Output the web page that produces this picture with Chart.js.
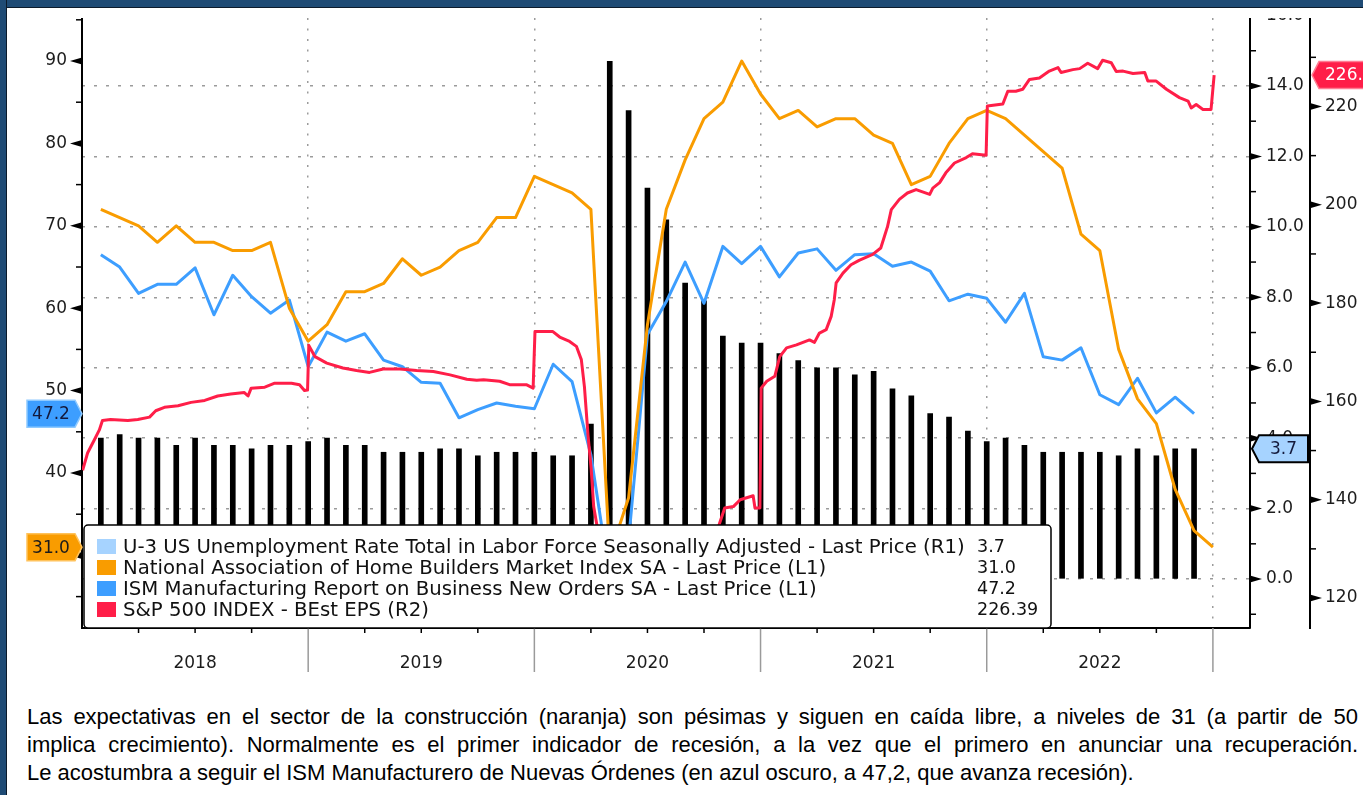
<!DOCTYPE html>
<html>
<head>
<meta charset="utf-8">
<title>NAHB, ISM New Orders, U-3 and S&amp;P 500 EPS</title>
<script src="https://cdn.jsdelivr.net/npm/chart.js@4.4.1/dist/chart.umd.min.js"></script>
<style>
  html, body { margin: 0; padding: 0; background: #fff; }
  body { width: 1363px; height: 795px; position: relative; overflow: hidden; }
  #chart { position: absolute; left: 0; top: 18px; }
  .frame { position: absolute; background: #1f4b75; z-index: 2; }
  #frameTop { left: 0; top: 0; width: 1363px; height: 7px; border-bottom: 1px solid #0c1b2b; }
  #frameLeft { left: 0; top: 0; width: 6px; height: 795px; border-right: 1px solid #0c1b2b; }
  #note {
    position: absolute; left: 27px; top: 703px; width: 1331px;
    font: 22px/28px 'Liberation Sans', Arial, sans-serif;
    color: #000;
  }
  #note .full { text-align: justify; text-align-last: justify; white-space: nowrap; }
  #note .last { text-align: left; white-space: nowrap; }
</style>
</head>
<body>
<div class="frame" id="frameTop"></div>
<div class="frame" id="frameLeft"></div>
<canvas id="chart" width="1363" height="680"></canvas>
<div id="note">
  <div class="full">Las expectativas en el sector de la construcción (naranja) son pésimas y siguen en caída libre, a niveles de 31 (a partir de 50</div>
  <div class="full">implica crecimiento). Normalmente es el primer indicador de recesión, a la vez que el primero en anunciar una recuperación.</div>
  <div class="last">Le acostumbra a seguir el ISM Manufacturero de Nuevas Órdenes (en azul oscuro, a 47,2, que avanza recesión).</div>
</div>
<script>
const yearLabels = [2018, 2019, 2020, 2021, 2022];

// Monthly values from Jan 2018, plotted at month end
const unemployment = [
    4.0, 4.1, 4.0, 4.0, 3.8, 4.0, 3.8, 3.8, 3.7, 3.8, 3.8, 3.9,
    4.0, 3.8, 3.8, 3.6, 3.6, 3.6, 3.7, 3.7, 3.5, 3.6, 3.6, 3.6,
    3.5, 3.5, 4.4, 14.7, 13.3, 11.1, 10.2, 8.4, 7.9, 6.9, 6.7, 6.7,
    6.4, 6.2, 6.0, 6.0, 5.8, 5.9, 5.4, 5.2, 4.7, 4.6, 4.2, 3.9,
    4.0, 3.8, 3.6, 3.6, 3.6, 3.6, 3.5, 3.7, 3.5, 3.7, 3.7
];
const nahb = [
    72, 71, 70, 68, 70, 68, 68, 67, 67, 68, 60, 56,
    58, 62, 62, 63, 66, 64, 65, 67, 68, 71, 71, 76,
    75, 74, 72, 30, 37, 58, 72, 78, 83, 85, 90, 86,
    83, 84, 82, 83, 83, 81, 80, 75, 76, 80, 83, 84,
    83, 81, 79, 77, 69, 67, 55, 49, 46, 38, 33, 31
];
const ismNewOrders = [
    66.5, 65.0, 61.8, 62.9, 62.9, 64.9, 59.2, 64.0, 61.4, 59.4, 61.0, 52.9,
    57.1, 56.0, 56.9, 53.7, 52.9, 51.0, 50.9, 46.7, 47.7, 48.5, 48.1, 47.8,
    53.2, 51.1, 42.2, 27.1, 31.8, 56.8, 60.8, 65.6, 60.6, 67.5, 65.4, 67.5,
    63.8, 66.7, 67.2, 64.6, 66.5, 66.6, 65.1, 65.6, 64.5, 60.9, 61.7, 61.2,
    58.3, 61.8, 54.1, 53.7, 55.2, 49.5, 48.3, 51.5, 47.3, 49.2, 47.2
];

// S&P 500 BEst EPS
const epsDates = [
    '2018-01-02', '2018-01-10', '2018-01-21', '2018-01-29', '2018-02-03', '2018-02-16', '2018-03-16',
    '2018-04-01', '2018-04-20', '2018-04-30', '2018-05-14', '2018-06-05', '2018-06-26', '2018-07-18',
    '2018-08-08', '2018-08-29', '2018-09-20', '2018-09-26', '2018-10-01', '2018-10-23', '2018-11-08',
    '2018-12-05', '2018-12-18', '2018-12-26', '2018-12-31',
    '2019-01-02', '2019-01-12', '2019-01-31', '2019-02-26', '2019-03-20', '2019-04-10', '2019-05-02',
    '2019-05-29', '2019-06-25', '2019-07-22', '2019-08-18', '2019-09-14', '2019-09-30', '2019-10-11',
    '2019-11-06', '2019-11-22', '2019-12-19', '2019-12-30',
    '2020-01-02', '2020-01-31', '2020-02-11', '2020-02-27', '2020-03-09', '2020-03-17', '2020-03-22',
    '2020-03-28', '2020-04-02', '2020-04-06', '2020-04-15', '2020-05-01', '2020-06-01', '2020-07-15',
    '2020-09-01', '2020-10-15', '2020-10-25', '2020-10-27', '2020-11-04', '2020-11-18', '2020-11-29',
    '2020-12-20', '2020-12-23', '2020-12-31',
    '2021-01-02', '2021-01-11', '2021-01-24', '2021-02-01', '2021-02-12', '2021-02-28', '2021-03-21',
    '2021-03-29', '2021-04-06', '2021-04-17', '2021-04-25', '2021-04-30', '2021-05-03', '2021-05-14',
    '2021-05-27', '2021-06-09', '2021-07-01', '2021-07-14', '2021-07-20', '2021-07-25', '2021-07-31',
    '2021-08-13', '2021-08-26', '2021-09-09', '2021-10-01', '2021-10-06', '2021-10-17', '2021-10-27',
    '2021-11-10', '2021-11-29', '2021-12-09', '2021-12-31',
    '2022-01-02', '2022-01-27', '2022-02-04', '2022-02-17', '2022-02-28', '2022-03-11', '2022-03-27',
    '2022-04-12', '2022-04-26', '2022-05-01', '2022-05-20', '2022-05-31', '2022-06-13', '2022-06-29',
    '2022-07-07', '2022-07-21', '2022-07-29', '2022-08-09', '2022-08-25', '2022-09-13', '2022-09-18',
    '2022-10-01', '2022-10-18', '2022-11-08', '2022-11-22', '2022-11-27', '2022-12-05', '2022-12-16',
    '2022-12-29', '2023-01-03'
];
const epsValues = [
    146.0, 149.5, 152.2, 154.2, 156.1, 156.3, 156.1,
    156.3, 156.8, 158.1, 158.8, 159.1, 159.8, 160.2,
    161.1, 161.5, 161.8, 161.1, 162.7, 162.9, 163.7,
    163.7, 163.4, 162.2, 162.3,
    171.4, 169.1, 167.8, 166.8, 166.3, 165.9, 166.6,
    166.6, 166.3, 166.1, 165.4, 164.5, 164.3, 164.4,
    164.1, 163.4, 163.4, 162.7,
    174.2, 174.2, 173.1, 172.2, 171.2, 168.5, 163.0,
    152.9, 146.1, 138.6, 132.0, 128.0, 125.0, 124.0,
    127.0, 131.0, 134.5, 135.3, 138.3, 138.6, 140.0,
    140.8, 138.3, 138.3,
    162.7, 164.1, 165.1, 169.1, 170.9, 171.5, 172.5,
    172.0, 173.9, 174.6, 177.3, 180.7, 184.1, 186.1,
    187.8, 188.7, 189.9, 191.2, 193.6, 195.6, 199.0,
    201.1, 202.4, 203.1, 202.1, 203.4, 204.5, 206.5,
    208.5, 209.6, 210.4, 210.1,
    220.1, 220.5, 223.1, 223.1, 223.5, 225.5, 225.8,
    227.2, 227.9, 226.9, 227.5, 227.7, 228.8, 227.7,
    229.4, 228.9, 227.1, 227.2, 226.7, 226.9, 225.2,
    225.2, 223.5, 221.8, 221.1, 219.7, 220.4, 219.4,
    219.4, 226.39
];

const orange = '#f99c00';
const blue = '#3d9eff';
const red = '#ff1e48';
const paleBlue = '#a6d3ff';
const ink = '#1c1c1c';
const axisFont = { family: 'DejaVu Sans', size: 17 };

// date string -> fractional year
function toYear(s) {
    const [y, m, d] = s.split('-').map(Number);
    const t0 = Date.UTC(y, 0, 1);
    const t1 = Date.UTC(y + 1, 0, 1);
    return y + (Date.UTC(y, m - 1, d) - t0) / (t1 - t0);
}

function monthly(values) {
    return values.map((v, i) => ({ x: yearLabels[0] + (i + 1) / 12, y: v }));
}

function range(from, to, step) {
    const out = [];
    for (let v = from; v <= to + 1e-9; v += step) out.push({ value: v });
    return out;
}

function noPadding(scale) {
    scale.paddingTop = scale.paddingBottom = scale.paddingLeft = scale.paddingRight = 0;
}

function drawTag(ctx, tag) {
    const h = 27, top = tag.y - h / 2, bottom = tag.y + h / 2;
    ctx.beginPath();
    if (tag.pointRight) {
        ctx.moveTo(tag.x0, top);
        ctx.lineTo(tag.x1, top);
        ctx.lineTo(tag.x1 + 7, tag.y);
        ctx.lineTo(tag.x1, bottom);
        ctx.lineTo(tag.x0, bottom);
    } else {
        ctx.moveTo(tag.x0 - 7, tag.y);
        ctx.lineTo(tag.x0, top);
        ctx.lineTo(tag.x1, top);
        ctx.lineTo(tag.x1, bottom);
        ctx.lineTo(tag.x0, bottom);
    }
    ctx.closePath();
    ctx.fillStyle = tag.fill;
    ctx.fill();
    ctx.lineWidth = tag.strokeWidth;
    ctx.strokeStyle = tag.stroke;
    ctx.stroke();
    ctx.font = '17px "DejaVu Sans"';
    ctx.fillStyle = tag.textColor;
    ctx.textBaseline = 'middle';
    if (tag.textX) {
        ctx.textAlign = 'left';
        ctx.fillText(tag.text, tag.textX, tag.y + 1);
    } else {
        ctx.textAlign = 'center';
        ctx.fillText(tag.text, (tag.x0 + tag.x1) / 2, tag.y + 1);
    }
}

const bloombergDecor = {
    id: 'bloombergDecor',
    afterDraw(chart) {
        const { ctx, chartArea: area, scales } = chart;
        ctx.save();

        // y axes: arrow heads on labelled ticks, short marks on the others
        ['l1', 'r1', 'r2'].forEach(id => {
            const s = scales[id];
            const x0 = s.position === 'left' ? s.right : s.left;
            const dir = s.position === 'left' ? -1 : 1;
            s.ticks.forEach(t => {
                const y = s.getPixelForValue(t.value);
                if (y < area.top - 1 || y > area.bottom + 1) return;
                ctx.fillStyle = ctx.strokeStyle = '#000';
                if (t.label) {
                    ctx.beginPath();
                    ctx.moveTo(x0, y - 3.5);
                    ctx.lineTo(x0 + dir * 12, y);
                    ctx.lineTo(x0, y + 3.5);
                    ctx.closePath();
                    ctx.fill();
                } else {
                    ctx.lineWidth = 1.5;
                    ctx.beginPath();
                    ctx.moveTo(x0, y);
                    ctx.lineTo(x0 + dir * 6, y);
                    ctx.stroke();
                }
            });
        });

        // x axis: quarter ticks and year separators
        const xs = scales.x;
        xs.ticks.forEach(t => {
            const isYear = Number.isInteger(t.value);
            if (isYear && t.value === xs.min) return;
            const x = xs.getPixelForValue(t.value);
            ctx.lineWidth = 1.5;
            ctx.strokeStyle = isYear ? '#9a9a9a' : '#000';
            ctx.beginPath();
            ctx.moveTo(x, area.bottom);
            ctx.lineTo(x, area.bottom + (isYear ? 44 : 5));
            ctx.stroke();
        });

        // legend box inside the plot
        const box = { x: area.left + 2, y: area.bottom - 103, w: 967, h: 103 };
        ctx.fillStyle = '#fff';
        ctx.strokeStyle = '#000';
        ctx.lineWidth = 1.5;
        ctx.beginPath();
        ctx.roundRect(box.x, box.y, box.w, box.h, 4);
        ctx.fill();
        ctx.stroke();
        ctx.textAlign = 'left';
        ctx.textBaseline = 'middle';
        chart.data.datasets.forEach((ds, i) => {
            const cy = box.y + 21.5 + i * 21;
            ctx.fillStyle = ds.legendColor;
            ctx.fillRect(box.x + 13, cy - 7.5, 19, 15);
            ctx.fillStyle = '#111';
            ctx.font = '19.7px "DejaVu Sans"';
            ctx.fillText(ds.label, box.x + 39, cy + 1);
            ctx.font = '17.5px "DejaVu Sans"';
            const last = ds.data[ds.data.length - 1].y;
            ctx.fillText(last.toFixed(ds.digits), box.x + 893, cy + 1);
        });

        // last value tags
        const lastOf = i => chart.data.datasets[i].data[chart.data.datasets[i].data.length - 1].y;
        const l1 = scales.l1, r1 = scales.r1, r2 = scales.r2;
        drawTag(ctx, { pointRight: true, x0: 27, x1: l1.right - 7, y: l1.getPixelForValue(lastOf(2)),
            fill: blue, stroke: '#8fcaff', strokeWidth: 1.5, text: lastOf(2).toFixed(1), textColor: '#141a3c' });
        drawTag(ctx, { pointRight: true, x0: 27, x1: l1.right - 7, y: l1.getPixelForValue(lastOf(1)),
            fill: orange, stroke: '#ffc25a', strokeWidth: 1.5, text: lastOf(1).toFixed(1), textColor: '#1b1b1b' });
        drawTag(ctx, { pointRight: false, x0: r1.left + 9, x1: r1.right - 2, y: r1.getPixelForValue(lastOf(0)),
            fill: paleBlue, stroke: '#000', strokeWidth: 2, text: lastOf(0).toFixed(1), textColor: '#141a3c' });
        drawTag(ctx, { pointRight: false, x0: r2.left + 9, x1: r2.right + 40, y: r2.getPixelForValue(lastOf(3)),
            fill: red, stroke: '#ff7d93', strokeWidth: 1.5, text: lastOf(3).toFixed(2), textColor: '#fff',
            textX: r2.left + 15 });

        ctx.restore();
    }
};

new Chart(document.getElementById('chart'), {
    type: 'line',
    data: {
        datasets: [
            {
                type: 'bar',
                label: 'U-3 US Unemployment Rate Total in Labor Force Seasonally Adjusted - Last Price (R1)',
                data: monthly(unemployment),
                yAxisID: 'r1',
                backgroundColor: '#000',
                barThickness: 5,
                order: 4,
                legendColor: paleBlue,
                digits: 1
            },
            {
                label: 'National Association of Home Builders Market Index SA - Last Price (L1)',
                data: monthly(nahb),
                yAxisID: 'l1',
                borderColor: orange,
                borderWidth: 3,
                pointRadius: 0,
                borderJoinStyle: 'round',
                order: 2,
                legendColor: orange,
                digits: 1
            },
            {
                label: 'ISM Manufacturing Report on Business New Orders SA - Last Price (L1)',
                data: monthly(ismNewOrders),
                yAxisID: 'l1',
                borderColor: blue,
                borderWidth: 3,
                pointRadius: 0,
                borderJoinStyle: 'round',
                order: 3,
                legendColor: blue,
                digits: 1
            },
            {
                label: 'S&P 500 INDEX - BEst EPS (R2)',
                data: epsDates.map((d, i) => ({ x: toYear(d), y: epsValues[i] })),
                yAxisID: 'r2',
                borderColor: red,
                borderWidth: 3,
                pointRadius: 0,
                borderJoinStyle: 'round',
                order: 1,
                legendColor: red,
                digits: 2
            }
        ]
    },
    options: {
        responsive: false,
        animation: false,
        devicePixelRatio: 1,
        layout: { padding: 0 },
        plugins: {
            legend: { display: false },
            tooltip: { enabled: false }
        },
        scales: {
            x: {
                type: 'linear',
                position: 'bottom',
                offset: false,
                min: 2018,
                max: 2023.164,
                afterBuildTicks: s => { s.ticks = range(2018, 2023, 0.25); },
                afterFit: s => { s.height = 70; noPadding(s); },
                ticks: {
                    autoSkip: false,
                    maxRotation: 0,
                    padding: 0,
                    font: axisFont,
                    color: ink,
                    callback: v => (yearLabels.includes(v - 0.5) ? String(v - 0.5) : '')
                },
                grid: {
                    offset: false,
                    drawTicks: true,
                    tickLength: 25,
                    tickColor: 'rgba(0,0,0,0)',
                    lineWidth: 1.5,
                    color: c => (c.tick && Number.isInteger(c.tick.value) && c.tick.value > 2018 ? '#9b9b9b' : 'rgba(0,0,0,0)')
                },
                border: { color: '#000', width: 2, dash: [2, 8.5] }
            },
            l1: {
                type: 'linear',
                position: 'left',
                min: 21.19,
                max: 95.22,
                afterBuildTicks: s => { s.ticks = range(25, 95, 5); },
                afterFit: s => { s.width = 82; noPadding(s); },
                ticks: {
                    padding: 15,
                    font: axisFont,
                    color: ink,
                    callback: v => (v % 10 === 0 ? String(v) : '')
                },
                grid: { drawOnChartArea: false, drawTicks: false },
                border: { color: '#000', width: 2 }
            },
            r1: {
                type: 'linear',
                position: 'right',
                weight: 1,
                min: -1.39,
                max: 15.93,
                afterBuildTicks: s => { s.ticks = range(-1, 16, 1); },
                afterFit: s => { s.width = 60; noPadding(s); },
                ticks: {
                    padding: 16,
                    font: axisFont,
                    color: ink,
                    callback: v => (v >= 0 && v % 2 === 0 ? v.toFixed(1) : '')
                },
                grid: {
                    drawTicks: false,
                    lineWidth: 1.5,
                    color: c => (c.tick && c.tick.value >= 0 && c.tick.value % 2 === 0 ? '#9b9b9b' : 'rgba(0,0,0,0)')
                },
                border: { color: '#000', width: 2, dash: [3, 9] }
            },
            r2: {
                type: 'linear',
                position: 'right',
                weight: 2,
                min: 113.9,
                max: 238,
                afterBuildTicks: s => { s.ticks = range(120, 230, 10); },
                afterFit: s => { s.width = 53; noPadding(s); },
                ticks: {
                    padding: 15,
                    font: axisFont,
                    color: ink,
                    callback: v => (v % 20 === 0 ? String(v) : '')
                },
                grid: { drawOnChartArea: false, drawTicks: false },
                border: { color: '#000', width: 2 }
            }
        }
    },
    plugins: [bloombergDecor]
});
</script>
</body>
</html>
